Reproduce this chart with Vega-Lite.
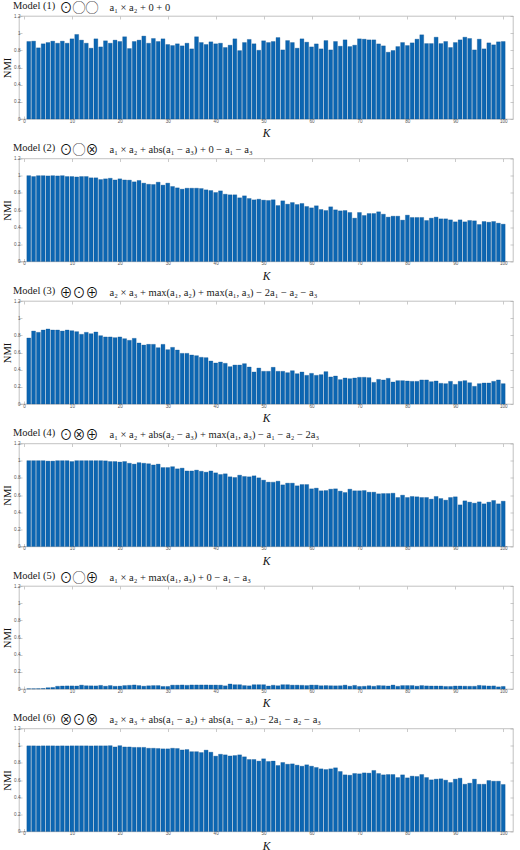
{
"$schema": "https://vega.github.io/schema/vega-lite/v6.json",
"padding": {"left": 2, "top": 0, "right": 0, "bottom": 0},
"spacing": 2.5,
"config": {
  "font": "Liberation Sans",
  "view": {"stroke": "#a8a8a8", "strokeWidth": 0.7},
  "axis": {"domain": false, "grid": false, "ticks": true, "tickSize": -3, "tickColor": "#a8a8a8", "tickWidth": 0.6, "labelFont": "Liberation Sans", "labelFontSize": 4.6, "labelColor": "#555555", "labelPadding": 2, "labelFlush": false, "labelOverlap": false, "titleFont": "Liberation Serif", "titleFontWeight": "normal", "titleColor": "#111111"},
  "axisBottom": {"titleFontSize": 11.5, "titleFontStyle": "italic", "titlePadding": 5},
  "axisLeft": {"titleFontSize": 10.5, "titlePadding": 1},
  "axisTop": {"labels": false, "titleX": 40, "titleY": -9, "titleAlign": "left", "titleBaseline": "middle", "titleAngle": 0, "titleFont": "Liberation Serif, Noto Sans CJK JP", "titleFontSize": 13, "titleFontStyle": "normal", "titleFontWeight": "normal", "titleColor": "#111111"},
  "axisRight": {"labels": false, "titleX": -404, "titleY": -6, "titleAlign": "left", "titleBaseline": "alphabetic", "titleAngle": 0, "titleFont": "Liberation Serif", "titleFontSize": 10.5, "titleFontStyle": "normal", "titleColor": "#1a1a1a"},
  "title": {"anchor": "start", "frame": "group", "dx": -6, "offset": -10, "baseline": "alphabetic", "font": "Liberation Serif", "fontSize": 10.5, "fontWeight": "normal", "color": "#1a1a1a"}
},
"datasets": {
"m1": [{"K":1,"NMI":0.903},{"K":2,"NMI":0.907},{"K":3,"NMI":0.829},{"K":4,"NMI":0.876},{"K":5,"NMI":0.891},{"K":6,"NMI":0.907},{"K":7,"NMI":0.883},{"K":8,"NMI":0.907},{"K":9,"NMI":0.883},{"K":10,"NMI":0.934},{"K":11,"NMI":0.985},{"K":12,"NMI":0.919},{"K":13,"NMI":0.883},{"K":14,"NMI":0.825},{"K":15,"NMI":0.934},{"K":16,"NMI":0.840},{"K":17,"NMI":0.911},{"K":18,"NMI":0.883},{"K":19,"NMI":0.919},{"K":20,"NMI":0.903},{"K":21,"NMI":0.958},{"K":22,"NMI":0.821},{"K":23,"NMI":0.903},{"K":24,"NMI":0.919},{"K":25,"NMI":0.966},{"K":26,"NMI":0.883},{"K":27,"NMI":0.938},{"K":28,"NMI":0.903},{"K":29,"NMI":0.934},{"K":30,"NMI":0.868},{"K":31,"NMI":0.856},{"K":32,"NMI":0.876},{"K":33,"NMI":0.852},{"K":34,"NMI":0.883},{"K":35,"NMI":0.817},{"K":36,"NMI":0.958},{"K":37,"NMI":0.891},{"K":38,"NMI":0.868},{"K":39,"NMI":0.899},{"K":40,"NMI":0.876},{"K":41,"NMI":0.883},{"K":42,"NMI":0.833},{"K":43,"NMI":0.860},{"K":44,"NMI":0.934},{"K":45,"NMI":0.797},{"K":46,"NMI":0.891},{"K":47,"NMI":0.927},{"K":48,"NMI":0.876},{"K":49,"NMI":0.801},{"K":50,"NMI":0.911},{"K":51,"NMI":0.891},{"K":52,"NMI":0.903},{"K":53,"NMI":0.949},{"K":54,"NMI":0.805},{"K":55,"NMI":0.914},{"K":56,"NMI":0.891},{"K":57,"NMI":0.825},{"K":58,"NMI":0.934},{"K":59,"NMI":0.895},{"K":60,"NMI":0.840},{"K":61,"NMI":0.875},{"K":62,"NMI":0.817},{"K":63,"NMI":0.914},{"K":64,"NMI":0.805},{"K":65,"NMI":0.903},{"K":66,"NMI":0.848},{"K":67,"NMI":0.922},{"K":68,"NMI":0.844},{"K":69,"NMI":0.860},{"K":70,"NMI":0.934},{"K":71,"NMI":0.930},{"K":72,"NMI":0.922},{"K":73,"NMI":0.922},{"K":74,"NMI":0.875},{"K":75,"NMI":0.852},{"K":76,"NMI":0.778},{"K":77,"NMI":0.798},{"K":78,"NMI":0.844},{"K":79,"NMI":0.891},{"K":80,"NMI":0.856},{"K":81,"NMI":0.887},{"K":82,"NMI":0.930},{"K":83,"NMI":0.981},{"K":84,"NMI":0.879},{"K":85,"NMI":0.879},{"K":86,"NMI":0.953},{"K":87,"NMI":0.879},{"K":88,"NMI":0.903},{"K":89,"NMI":0.833},{"K":90,"NMI":0.891},{"K":91,"NMI":0.922},{"K":92,"NMI":0.953},{"K":93,"NMI":0.938},{"K":94,"NMI":0.805},{"K":95,"NMI":0.930},{"K":96,"NMI":0.817},{"K":97,"NMI":0.887},{"K":98,"NMI":0.864},{"K":99,"NMI":0.899},{"K":100,"NMI":0.903}],
"m2": [{"K":1,"NMI":1.0},{"K":2,"NMI":0.99},{"K":3,"NMI":1.0},{"K":4,"NMI":1.0},{"K":5,"NMI":0.997},{"K":6,"NMI":1.0},{"K":7,"NMI":0.997},{"K":8,"NMI":1.0},{"K":9,"NMI":0.99},{"K":10,"NMI":0.99},{"K":11,"NMI":0.985},{"K":12,"NMI":0.99},{"K":13,"NMI":0.99},{"K":14,"NMI":0.975},{"K":15,"NMI":0.975},{"K":16,"NMI":0.955},{"K":17,"NMI":0.963},{"K":18,"NMI":0.97},{"K":19,"NMI":0.95},{"K":20,"NMI":0.963},{"K":21,"NMI":0.95},{"K":22,"NMI":0.948},{"K":23,"NMI":0.928},{"K":24,"NMI":0.944},{"K":25,"NMI":0.913},{"K":26,"NMI":0.90},{"K":27,"NMI":0.897},{"K":28,"NMI":0.924},{"K":29,"NMI":0.89},{"K":30,"NMI":0.913},{"K":31,"NMI":0.874},{"K":32,"NMI":0.858},{"K":33,"NMI":0.843},{"K":34,"NMI":0.854},{"K":35,"NMI":0.854},{"K":36,"NMI":0.854},{"K":37,"NMI":0.85},{"K":38,"NMI":0.835},{"K":39,"NMI":0.827},{"K":40,"NMI":0.804},{"K":41,"NMI":0.823},{"K":42,"NMI":0.784},{"K":43,"NMI":0.777},{"K":44,"NMI":0.777},{"K":45,"NMI":0.742},{"K":46,"NMI":0.765},{"K":47,"NMI":0.734},{"K":48,"NMI":0.718},{"K":49,"NMI":0.726},{"K":50,"NMI":0.715},{"K":51,"NMI":0.711},{"K":52,"NMI":0.718},{"K":53,"NMI":0.652},{"K":54,"NMI":0.707},{"K":55,"NMI":0.668},{"K":56,"NMI":0.687},{"K":57,"NMI":0.664},{"K":58,"NMI":0.676},{"K":59,"NMI":0.641},{"K":60,"NMI":0.625},{"K":61,"NMI":0.649},{"K":62,"NMI":0.606},{"K":63,"NMI":0.594},{"K":64,"NMI":0.637},{"K":65,"NMI":0.602},{"K":66,"NMI":0.590},{"K":67,"NMI":0.594},{"K":68,"NMI":0.571},{"K":69,"NMI":0.505},{"K":70,"NMI":0.571},{"K":71,"NMI":0.536},{"K":72,"NMI":0.559},{"K":73,"NMI":0.559},{"K":74,"NMI":0.579},{"K":75,"NMI":0.551},{"K":76,"NMI":0.517},{"K":77,"NMI":0.528},{"K":78,"NMI":0.528},{"K":79,"NMI":0.482},{"K":80,"NMI":0.540},{"K":81,"NMI":0.513},{"K":82,"NMI":0.513},{"K":83,"NMI":0.513},{"K":84,"NMI":0.478},{"K":85,"NMI":0.505},{"K":86,"NMI":0.517},{"K":87,"NMI":0.497},{"K":88,"NMI":0.497},{"K":89,"NMI":0.485},{"K":90,"NMI":0.462},{"K":91,"NMI":0.485},{"K":92,"NMI":0.462},{"K":93,"NMI":0.478},{"K":94,"NMI":0.474},{"K":95,"NMI":0.431},{"K":96,"NMI":0.466},{"K":97,"NMI":0.458},{"K":98,"NMI":0.466},{"K":99,"NMI":0.447},{"K":100,"NMI":0.435}],
"m3": [{"K":1,"NMI":0.769},{"K":2,"NMI":0.850},{"K":3,"NMI":0.835},{"K":4,"NMI":0.862},{"K":5,"NMI":0.874},{"K":6,"NMI":0.862},{"K":7,"NMI":0.862},{"K":8,"NMI":0.850},{"K":9,"NMI":0.862},{"K":10,"NMI":0.854},{"K":11,"NMI":0.843},{"K":12,"NMI":0.812},{"K":13,"NMI":0.835},{"K":14,"NMI":0.819},{"K":15,"NMI":0.839},{"K":16,"NMI":0.796},{"K":17,"NMI":0.781},{"K":18,"NMI":0.781},{"K":19,"NMI":0.773},{"K":20,"NMI":0.781},{"K":21,"NMI":0.761},{"K":22,"NMI":0.742},{"K":23,"NMI":0.765},{"K":24,"NMI":0.711},{"K":25,"NMI":0.687},{"K":26,"NMI":0.695},{"K":27,"NMI":0.695},{"K":28,"NMI":0.656},{"K":29,"NMI":0.695},{"K":30,"NMI":0.633},{"K":31,"NMI":0.660},{"K":32,"NMI":0.629},{"K":33,"NMI":0.590},{"K":34,"NMI":0.590},{"K":35,"NMI":0.571},{"K":36,"NMI":0.563},{"K":37,"NMI":0.544},{"K":38,"NMI":0.540},{"K":39,"NMI":0.501},{"K":40,"NMI":0.478},{"K":41,"NMI":0.489},{"K":42,"NMI":0.474},{"K":43,"NMI":0.435},{"K":44,"NMI":0.454},{"K":45,"NMI":0.454},{"K":46,"NMI":0.470},{"K":47,"NMI":0.431},{"K":48,"NMI":0.373},{"K":49,"NMI":0.419},{"K":50,"NMI":0.381},{"K":51,"NMI":0.381},{"K":52,"NMI":0.427},{"K":53,"NMI":0.381},{"K":54,"NMI":0.381},{"K":55,"NMI":0.365},{"K":56,"NMI":0.388},{"K":57,"NMI":0.353},{"K":58,"NMI":0.373},{"K":59,"NMI":0.334},{"K":60,"NMI":0.357},{"K":61,"NMI":0.334},{"K":62,"NMI":0.342},{"K":63,"NMI":0.377},{"K":64,"NMI":0.315},{"K":65,"NMI":0.326},{"K":66,"NMI":0.284},{"K":67,"NMI":0.303},{"K":68,"NMI":0.295},{"K":69,"NMI":0.303},{"K":70,"NMI":0.311},{"K":71,"NMI":0.311},{"K":72,"NMI":0.307},{"K":73,"NMI":0.252},{"K":74,"NMI":0.287},{"K":75,"NMI":0.280},{"K":76,"NMI":0.299},{"K":77,"NMI":0.256},{"K":78,"NMI":0.272},{"K":79,"NMI":0.272},{"K":80,"NMI":0.268},{"K":81,"NMI":0.264},{"K":82,"NMI":0.264},{"K":83,"NMI":0.280},{"K":84,"NMI":0.280},{"K":85,"NMI":0.260},{"K":86,"NMI":0.268},{"K":87,"NMI":0.241},{"K":88,"NMI":0.237},{"K":89,"NMI":0.264},{"K":90,"NMI":0.229},{"K":91,"NMI":0.264},{"K":92,"NMI":0.272},{"K":93,"NMI":0.248},{"K":94,"NMI":0.206},{"K":95,"NMI":0.237},{"K":96,"NMI":0.245},{"K":97,"NMI":0.245},{"K":98,"NMI":0.264},{"K":99,"NMI":0.280},{"K":100,"NMI":0.237}],
"m4": [{"K":1,"NMI":1.0},{"K":2,"NMI":1.0},{"K":3,"NMI":1.0},{"K":4,"NMI":1.0},{"K":5,"NMI":0.995},{"K":6,"NMI":0.995},{"K":7,"NMI":1.0},{"K":8,"NMI":1.0},{"K":9,"NMI":1.0},{"K":10,"NMI":0.99},{"K":11,"NMI":1.0},{"K":12,"NMI":1.0},{"K":13,"NMI":1.0},{"K":14,"NMI":1.0},{"K":15,"NMI":1.0},{"K":16,"NMI":1.0},{"K":17,"NMI":0.998},{"K":18,"NMI":0.99},{"K":19,"NMI":0.99},{"K":20,"NMI":0.984},{"K":21,"NMI":0.99},{"K":22,"NMI":0.97},{"K":23,"NMI":0.96},{"K":24,"NMI":0.977},{"K":25,"NMI":0.97},{"K":26,"NMI":0.965},{"K":27,"NMI":0.95},{"K":28,"NMI":0.96},{"K":29,"NMI":0.92},{"K":30,"NMI":0.92},{"K":31,"NMI":0.93},{"K":32,"NMI":0.905},{"K":33,"NMI":0.913},{"K":34,"NMI":0.88},{"K":35,"NMI":0.88},{"K":36,"NMI":0.89},{"K":37,"NMI":0.877},{"K":38,"NMI":0.866},{"K":39,"NMI":0.88},{"K":40,"NMI":0.858},{"K":41,"NMI":0.839},{"K":42,"NMI":0.847},{"K":43,"NMI":0.812},{"K":44,"NMI":0.804},{"K":45,"NMI":0.831},{"K":46,"NMI":0.816},{"K":47,"NMI":0.812},{"K":48,"NMI":0.823},{"K":49,"NMI":0.80},{"K":50,"NMI":0.773},{"K":51,"NMI":0.75},{"K":52,"NMI":0.75},{"K":53,"NMI":0.761},{"K":54,"NMI":0.718},{"K":55,"NMI":0.738},{"K":56,"NMI":0.738},{"K":57,"NMI":0.707},{"K":58,"NMI":0.722},{"K":59,"NMI":0.722},{"K":60,"NMI":0.672},{"K":61,"NMI":0.680},{"K":62,"NMI":0.649},{"K":63,"NMI":0.652},{"K":64,"NMI":0.668},{"K":65,"NMI":0.672},{"K":66,"NMI":0.645},{"K":67,"NMI":0.629},{"K":68,"NMI":0.668},{"K":69,"NMI":0.649},{"K":70,"NMI":0.649},{"K":71,"NMI":0.652},{"K":72,"NMI":0.633},{"K":73,"NMI":0.633},{"K":74,"NMI":0.614},{"K":75,"NMI":0.617},{"K":76,"NMI":0.617},{"K":77,"NMI":0.621},{"K":78,"NMI":0.571},{"K":79,"NMI":0.598},{"K":80,"NMI":0.571},{"K":81,"NMI":0.583},{"K":82,"NMI":0.579},{"K":83,"NMI":0.571},{"K":84,"NMI":0.571},{"K":85,"NMI":0.552},{"K":86,"NMI":0.583},{"K":87,"NMI":0.559},{"K":88,"NMI":0.540},{"K":89,"NMI":0.571},{"K":90,"NMI":0.579},{"K":91,"NMI":0.485},{"K":92,"NMI":0.532},{"K":93,"NMI":0.517},{"K":94,"NMI":0.505},{"K":95,"NMI":0.520},{"K":96,"NMI":0.497},{"K":97,"NMI":0.517},{"K":98,"NMI":0.536},{"K":99,"NMI":0.497},{"K":100,"NMI":0.528}],
"m5": [{"K":1,"NMI":0.003},{"K":2,"NMI":0.003},{"K":3,"NMI":0.004},{"K":4,"NMI":0.006},{"K":5,"NMI":0.015},{"K":6,"NMI":0.018},{"K":7,"NMI":0.032},{"K":8,"NMI":0.035},{"K":9,"NMI":0.036},{"K":10,"NMI":0.036},{"K":11,"NMI":0.035},{"K":12,"NMI":0.045},{"K":13,"NMI":0.038},{"K":14,"NMI":0.037},{"K":15,"NMI":0.036},{"K":16,"NMI":0.042},{"K":17,"NMI":0.033},{"K":18,"NMI":0.04},{"K":19,"NMI":0.032},{"K":20,"NMI":0.034},{"K":21,"NMI":0.04},{"K":22,"NMI":0.043},{"K":23,"NMI":0.047},{"K":24,"NMI":0.04},{"K":25,"NMI":0.033},{"K":26,"NMI":0.037},{"K":27,"NMI":0.04},{"K":28,"NMI":0.04},{"K":29,"NMI":0.03},{"K":30,"NMI":0.03},{"K":31,"NMI":0.045},{"K":32,"NMI":0.045},{"K":33,"NMI":0.047},{"K":34,"NMI":0.043},{"K":35,"NMI":0.047},{"K":36,"NMI":0.047},{"K":37,"NMI":0.047},{"K":38,"NMI":0.047},{"K":39,"NMI":0.046},{"K":40,"NMI":0.046},{"K":41,"NMI":0.045},{"K":42,"NMI":0.037},{"K":43,"NMI":0.058},{"K":44,"NMI":0.05},{"K":45,"NMI":0.05},{"K":46,"NMI":0.04},{"K":47,"NMI":0.037},{"K":48,"NMI":0.05},{"K":49,"NMI":0.05},{"K":50,"NMI":0.05},{"K":51,"NMI":0.035},{"K":52,"NMI":0.044},{"K":53,"NMI":0.038},{"K":54,"NMI":0.05},{"K":55,"NMI":0.05},{"K":56,"NMI":0.045},{"K":57,"NMI":0.045},{"K":58,"NMI":0.043},{"K":59,"NMI":0.04},{"K":60,"NMI":0.046},{"K":61,"NMI":0.045},{"K":62,"NMI":0.038},{"K":63,"NMI":0.04},{"K":64,"NMI":0.038},{"K":65,"NMI":0.037},{"K":66,"NMI":0.038},{"K":67,"NMI":0.045},{"K":68,"NMI":0.033},{"K":69,"NMI":0.042},{"K":70,"NMI":0.03},{"K":71,"NMI":0.032},{"K":72,"NMI":0.038},{"K":73,"NMI":0.032},{"K":74,"NMI":0.04},{"K":75,"NMI":0.038},{"K":76,"NMI":0.035},{"K":77,"NMI":0.046},{"K":78,"NMI":0.032},{"K":79,"NMI":0.04},{"K":80,"NMI":0.04},{"K":81,"NMI":0.04},{"K":82,"NMI":0.033},{"K":83,"NMI":0.04},{"K":84,"NMI":0.036},{"K":85,"NMI":0.035},{"K":86,"NMI":0.035},{"K":87,"NMI":0.035},{"K":88,"NMI":0.03},{"K":89,"NMI":0.03},{"K":90,"NMI":0.035},{"K":91,"NMI":0.035},{"K":92,"NMI":0.033},{"K":93,"NMI":0.032},{"K":94,"NMI":0.032},{"K":95,"NMI":0.042},{"K":96,"NMI":0.038},{"K":97,"NMI":0.035},{"K":98,"NMI":0.036},{"K":99,"NMI":0.025},{"K":100,"NMI":0.03}],
"m6": [{"K":1,"NMI":0.998},{"K":2,"NMI":0.998},{"K":3,"NMI":0.997},{"K":4,"NMI":0.998},{"K":5,"NMI":0.998},{"K":6,"NMI":0.998},{"K":7,"NMI":0.997},{"K":8,"NMI":0.998},{"K":9,"NMI":0.997},{"K":10,"NMI":0.998},{"K":11,"NMI":0.998},{"K":12,"NMI":0.998},{"K":13,"NMI":0.998},{"K":14,"NMI":0.997},{"K":15,"NMI":0.998},{"K":16,"NMI":0.998},{"K":17,"NMI":0.998},{"K":18,"NMI":1.0},{"K":19,"NMI":0.985},{"K":20,"NMI":1.0},{"K":21,"NMI":0.985},{"K":22,"NMI":0.985},{"K":23,"NMI":0.98},{"K":24,"NMI":0.98},{"K":25,"NMI":0.98},{"K":26,"NMI":0.97},{"K":27,"NMI":0.97},{"K":28,"NMI":0.967},{"K":29,"NMI":0.963},{"K":30,"NMI":0.963},{"K":31,"NMI":0.97},{"K":32,"NMI":0.967},{"K":33,"NMI":0.95},{"K":34,"NMI":0.955},{"K":35,"NMI":0.93},{"K":36,"NMI":0.93},{"K":37,"NMI":0.92},{"K":38,"NMI":0.948},{"K":39,"NMI":0.924},{"K":40,"NMI":0.878},{"K":41,"NMI":0.90},{"K":42,"NMI":0.893},{"K":43,"NMI":0.88},{"K":44,"NMI":0.885},{"K":45,"NMI":0.893},{"K":46,"NMI":0.87},{"K":47,"NMI":0.839},{"K":48,"NMI":0.839},{"K":49,"NMI":0.82},{"K":50,"NMI":0.847},{"K":51,"NMI":0.816},{"K":52,"NMI":0.82},{"K":53,"NMI":0.769},{"K":54,"NMI":0.804},{"K":55,"NMI":0.784},{"K":56,"NMI":0.788},{"K":57,"NMI":0.773},{"K":58,"NMI":0.761},{"K":59,"NMI":0.777},{"K":60,"NMI":0.761},{"K":61,"NMI":0.746},{"K":62,"NMI":0.730},{"K":63,"NMI":0.722},{"K":64,"NMI":0.730},{"K":65,"NMI":0.742},{"K":66,"NMI":0.699},{"K":67,"NMI":0.660},{"K":68,"NMI":0.656},{"K":69,"NMI":0.676},{"K":70,"NMI":0.672},{"K":71,"NMI":0.683},{"K":72,"NMI":0.680},{"K":73,"NMI":0.711},{"K":74,"NMI":0.676},{"K":75,"NMI":0.660},{"K":76,"NMI":0.664},{"K":77,"NMI":0.664},{"K":78,"NMI":0.629},{"K":79,"NMI":0.660},{"K":80,"NMI":0.625},{"K":81,"NMI":0.645},{"K":82,"NMI":0.641},{"K":83,"NMI":0.664},{"K":84,"NMI":0.629},{"K":85,"NMI":0.602},{"K":86,"NMI":0.610},{"K":87,"NMI":0.614},{"K":88,"NMI":0.598},{"K":89,"NMI":0.571},{"K":90,"NMI":0.610},{"K":91,"NMI":0.621},{"K":92,"NMI":0.551},{"K":93,"NMI":0.563},{"K":94,"NMI":0.610},{"K":95,"NMI":0.551},{"K":96,"NMI":0.551},{"K":97,"NMI":0.594},{"K":98,"NMI":0.586},{"K":99,"NMI":0.586},{"K":100,"NMI":0.548}]
},
"vconcat": [
{"data": {"name": "m1"}, "width": 494, "height": 103, "title": "Model (1)",
 "layer": [
  {"mark": {"type": "bar", "size": 3.9, "color": "#0c66b2", "stroke": "#0a4f8c", "strokeWidth": 0.3},
   "encoding": {"x": {"field": "K", "type": "quantitative", "scale": {"domain": [0, 101], "nice": false, "zero": false}, "axis": {"values": [0,10,20,30,40,50,60,70,80,90,100], "title": "K"}},
                "y": {"field": "NMI", "type": "quantitative", "scale": {"domain": [0, 1.2], "nice": false}, "axis": {"values": [0,0.2,0.4,0.6,0.8,1,1.2], "format": "~g", "title": "NMI"}}}},
  {"mark": {"type": "point", "opacity": 0},
   "encoding": {"x": {"field": "K", "type": "quantitative", "axis": {"orient": "top", "values": [0,10,20,30,40,50,60,70,80,90,100], "title": "⊙◯◯"}},
                "y": {"field": "NMI", "type": "quantitative", "axis": {"orient": "right", "values": [0,0.2,0.4,0.6,0.8,1,1.2], "title": "a₁ × a₂ + 0 + 0"}}}}
 ],
 "resolve": {"axis": {"x": "independent", "y": "independent"}}},
{"data": {"name": "m2"}, "width": 494, "height": 103, "title": "Model (2)",
 "layer": [
  {"mark": {"type": "bar", "size": 3.9, "color": "#0c66b2", "stroke": "#0a4f8c", "strokeWidth": 0.3},
   "encoding": {"x": {"field": "K", "type": "quantitative", "scale": {"domain": [0, 101], "nice": false, "zero": false}, "axis": {"values": [0,10,20,30,40,50,60,70,80,90,100], "title": "K"}},
                "y": {"field": "NMI", "type": "quantitative", "scale": {"domain": [0, 1.2], "nice": false}, "axis": {"values": [0,0.2,0.4,0.6,0.8,1,1.2], "format": "~g", "title": "NMI"}}}},
  {"mark": {"type": "point", "opacity": 0},
   "encoding": {"x": {"field": "K", "type": "quantitative", "axis": {"orient": "top", "values": [0,10,20,30,40,50,60,70,80,90,100], "title": "⊙◯⊗"}},
                "y": {"field": "NMI", "type": "quantitative", "axis": {"orient": "right", "values": [0,0.2,0.4,0.6,0.8,1,1.2], "title": "a₁ × a₂ + abs(a₁ − a₃) + 0 − a₁ − a₃"}}}}
 ],
 "resolve": {"axis": {"x": "independent", "y": "independent"}}},
{"data": {"name": "m3"}, "width": 494, "height": 103, "title": "Model (3)",
 "layer": [
  {"mark": {"type": "bar", "size": 3.9, "color": "#0c66b2", "stroke": "#0a4f8c", "strokeWidth": 0.3},
   "encoding": {"x": {"field": "K", "type": "quantitative", "scale": {"domain": [0, 101], "nice": false, "zero": false}, "axis": {"values": [0,10,20,30,40,50,60,70,80,90,100], "title": "K"}},
                "y": {"field": "NMI", "type": "quantitative", "scale": {"domain": [0, 1.2], "nice": false}, "axis": {"values": [0,0.2,0.4,0.6,0.8,1,1.2], "format": "~g", "title": "NMI"}}}},
  {"mark": {"type": "point", "opacity": 0},
   "encoding": {"x": {"field": "K", "type": "quantitative", "axis": {"orient": "top", "values": [0,10,20,30,40,50,60,70,80,90,100], "title": "⊕⊙⊕"}},
                "y": {"field": "NMI", "type": "quantitative", "axis": {"orient": "right", "values": [0,0.2,0.4,0.6,0.8,1,1.2], "title": "a₂ × a₃ + max(a₁, a₂) + max(a₁, a₃) − 2a₁ − a₂ − a₃"}}}}
 ],
 "resolve": {"axis": {"x": "independent", "y": "independent"}}},
{"data": {"name": "m4"}, "width": 494, "height": 103, "title": "Model (4)",
 "layer": [
  {"mark": {"type": "bar", "size": 3.9, "color": "#0c66b2", "stroke": "#0a4f8c", "strokeWidth": 0.3},
   "encoding": {"x": {"field": "K", "type": "quantitative", "scale": {"domain": [0, 101], "nice": false, "zero": false}, "axis": {"values": [0,10,20,30,40,50,60,70,80,90,100], "title": "K"}},
                "y": {"field": "NMI", "type": "quantitative", "scale": {"domain": [0, 1.2], "nice": false}, "axis": {"values": [0,0.2,0.4,0.6,0.8,1,1.2], "format": "~g", "title": "NMI"}}}},
  {"mark": {"type": "point", "opacity": 0},
   "encoding": {"x": {"field": "K", "type": "quantitative", "axis": {"orient": "top", "values": [0,10,20,30,40,50,60,70,80,90,100], "title": "⊙⊗⊕"}},
                "y": {"field": "NMI", "type": "quantitative", "axis": {"orient": "right", "values": [0,0.2,0.4,0.6,0.8,1,1.2], "title": "a₁ × a₂ + abs(a₂ − a₃) + max(a₁, a₃) − a₁ − a₂ − 2a₃"}}}}
 ],
 "resolve": {"axis": {"x": "independent", "y": "independent"}}},
{"data": {"name": "m5"}, "width": 494, "height": 103, "title": "Model (5)",
 "layer": [
  {"mark": {"type": "bar", "size": 3.9, "color": "#0c66b2", "stroke": "#0a4f8c", "strokeWidth": 0.3},
   "encoding": {"x": {"field": "K", "type": "quantitative", "scale": {"domain": [0, 101], "nice": false, "zero": false}, "axis": {"values": [0,10,20,30,40,50,60,70,80,90,100], "title": "K"}},
                "y": {"field": "NMI", "type": "quantitative", "scale": {"domain": [0, 1.2], "nice": false}, "axis": {"values": [0,0.2,0.4,0.6,0.8,1,1.2], "format": "~g", "title": "NMI"}}}},
  {"mark": {"type": "point", "opacity": 0},
   "encoding": {"x": {"field": "K", "type": "quantitative", "axis": {"orient": "top", "values": [0,10,20,30,40,50,60,70,80,90,100], "title": "⊙◯⊕"}},
                "y": {"field": "NMI", "type": "quantitative", "axis": {"orient": "right", "values": [0,0.2,0.4,0.6,0.8,1,1.2], "title": "a₁ × a₂ + max(a₁, a₃) + 0 − a₁ − a₃"}}}}
 ],
 "resolve": {"axis": {"x": "independent", "y": "independent"}}},
{"data": {"name": "m6"}, "width": 494, "height": 103, "title": "Model (6)",
 "layer": [
  {"mark": {"type": "bar", "size": 3.9, "color": "#0c66b2", "stroke": "#0a4f8c", "strokeWidth": 0.3},
   "encoding": {"x": {"field": "K", "type": "quantitative", "scale": {"domain": [0, 101], "nice": false, "zero": false}, "axis": {"values": [0,10,20,30,40,50,60,70,80,90,100], "title": "K"}},
                "y": {"field": "NMI", "type": "quantitative", "scale": {"domain": [0, 1.2], "nice": false}, "axis": {"values": [0,0.2,0.4,0.6,0.8,1,1.2], "format": "~g", "title": "NMI"}}}},
  {"mark": {"type": "point", "opacity": 0},
   "encoding": {"x": {"field": "K", "type": "quantitative", "axis": {"orient": "top", "values": [0,10,20,30,40,50,60,70,80,90,100], "title": "⊗⊙⊗"}},
                "y": {"field": "NMI", "type": "quantitative", "axis": {"orient": "right", "values": [0,0.2,0.4,0.6,0.8,1,1.2], "title": "a₂ × a₃ + abs(a₁ − a₂) + abs(a₁ − a₃) − 2a₁ − a₂ − a₃"}}}}
 ],
 "resolve": {"axis": {"x": "independent", "y": "independent"}}}
]
}
